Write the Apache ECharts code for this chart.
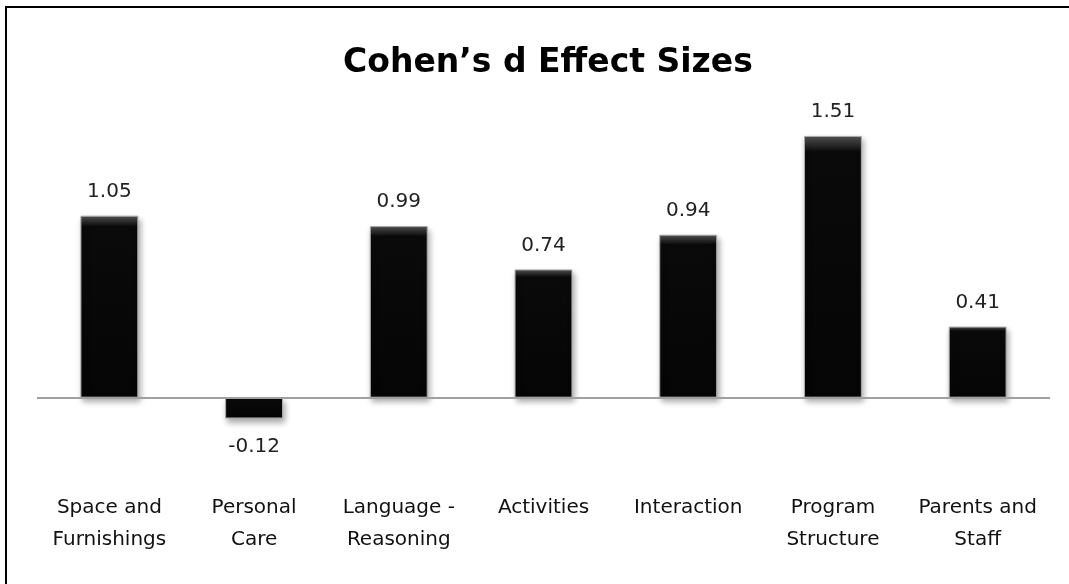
<!DOCTYPE html>
<html>
<head>
<meta charset="utf-8">
<script src="https://cdn.jsdelivr.net/npm/echarts@6/dist/echarts.min.js"></script>
<style>
  html, body { margin: 0; padding: 0; background: #fff; overflow: hidden; }
  .frame { position: absolute; left: 5px; top: 6px; width: 1200px; height: 700px; border: 2px solid #000; }
  #chart { position: absolute; left: 0; top: 0; width: 1069px; height: 584px; }
</style>
</head>
<body>
<div class="frame"></div>
<div id="chart"></div>
<script>
// categories on the x axis
var categories = [
  'Space and\nFurnishings',
  'Personal\nCare',
  'Language -\nReasoning',
  'Activities',
  'Interaction',
  'Program\nStructure',
  'Parents and\nStaff'
]
// Cohen's d per category
var effectSizes = [1.05, -0.12, 0.99, 0.74, 0.94, 1.51, 0.41]

var chart = echarts.init(document.getElementById('chart'))

// bevelled black bars, label goes below for negative values
var barData = effectSizes.map(function (v) {
  return {
    value: v,
    label: { position: v < 0 ? 'bottom' : 'top', distance: v < 0 ? 18 : 14 }
  }
})

var option = {
  animation: false,
  title: {
    text: 'Cohen’s d Effect Sizes',
    left: 338,
    top: 42,
    textStyle: {
      fontFamily: 'DejaVu Sans',
      fontWeight: 'bold',
      fontSize: 33,
      color: '#000'
    }
  },
  grid: {
    left: 37,
    right: 19,
    top: 103,
    bottom: 117
  },
  xAxis: {
    type: 'category',
    data: categories,
    axisLine: { show: false },
    axisTick: { show: false },
    axisLabel: {
      margin: 25,
      interval: 0,
      fontFamily: 'DejaVu Sans',
      fontSize: 20,
      lineHeight: 32,
      color: '#111'
    }
  },
  yAxis: {
    type: 'value',
    min: -0.4,
    max: 1.7,
    show: false,
    splitLine: { show: false }
  },
  series: [{
    type: 'bar',
    data: barData,
    barCategoryGap: '60%',
    itemStyle: {
      color: {
        type: 'linear', x: 0, y: 0, x2: 0, y2: 1,
        colorStops: [
          { offset: 0, color: '#555' },
          { offset: 0.06, color: '#0a0a0a' },
          { offset: 1, color: '#050505' }
        ]
      },
      borderColor: '#aaa',
      borderWidth: 1,
      shadowBlur: 6,
      shadowOffsetX: 2,
      shadowOffsetY: 4,
      shadowColor: 'rgba(0,0,0,0.35)'
    },
    label: {
      show: true,
      fontFamily: 'DejaVu Sans',
      fontSize: 20,
      color: '#222',
      formatter: function (p) { return p.value.toFixed(2) }
    },
    markLine: {
      silent: true,
      symbol: 'none',
      label: { show: false },
      lineStyle: { color: '#a0a0a0', width: 2, type: 'solid' },
      data: [{ yAxis: 0 }]
    }
  }]
}

chart.setOption(option)
</script>
</body>
</html>
